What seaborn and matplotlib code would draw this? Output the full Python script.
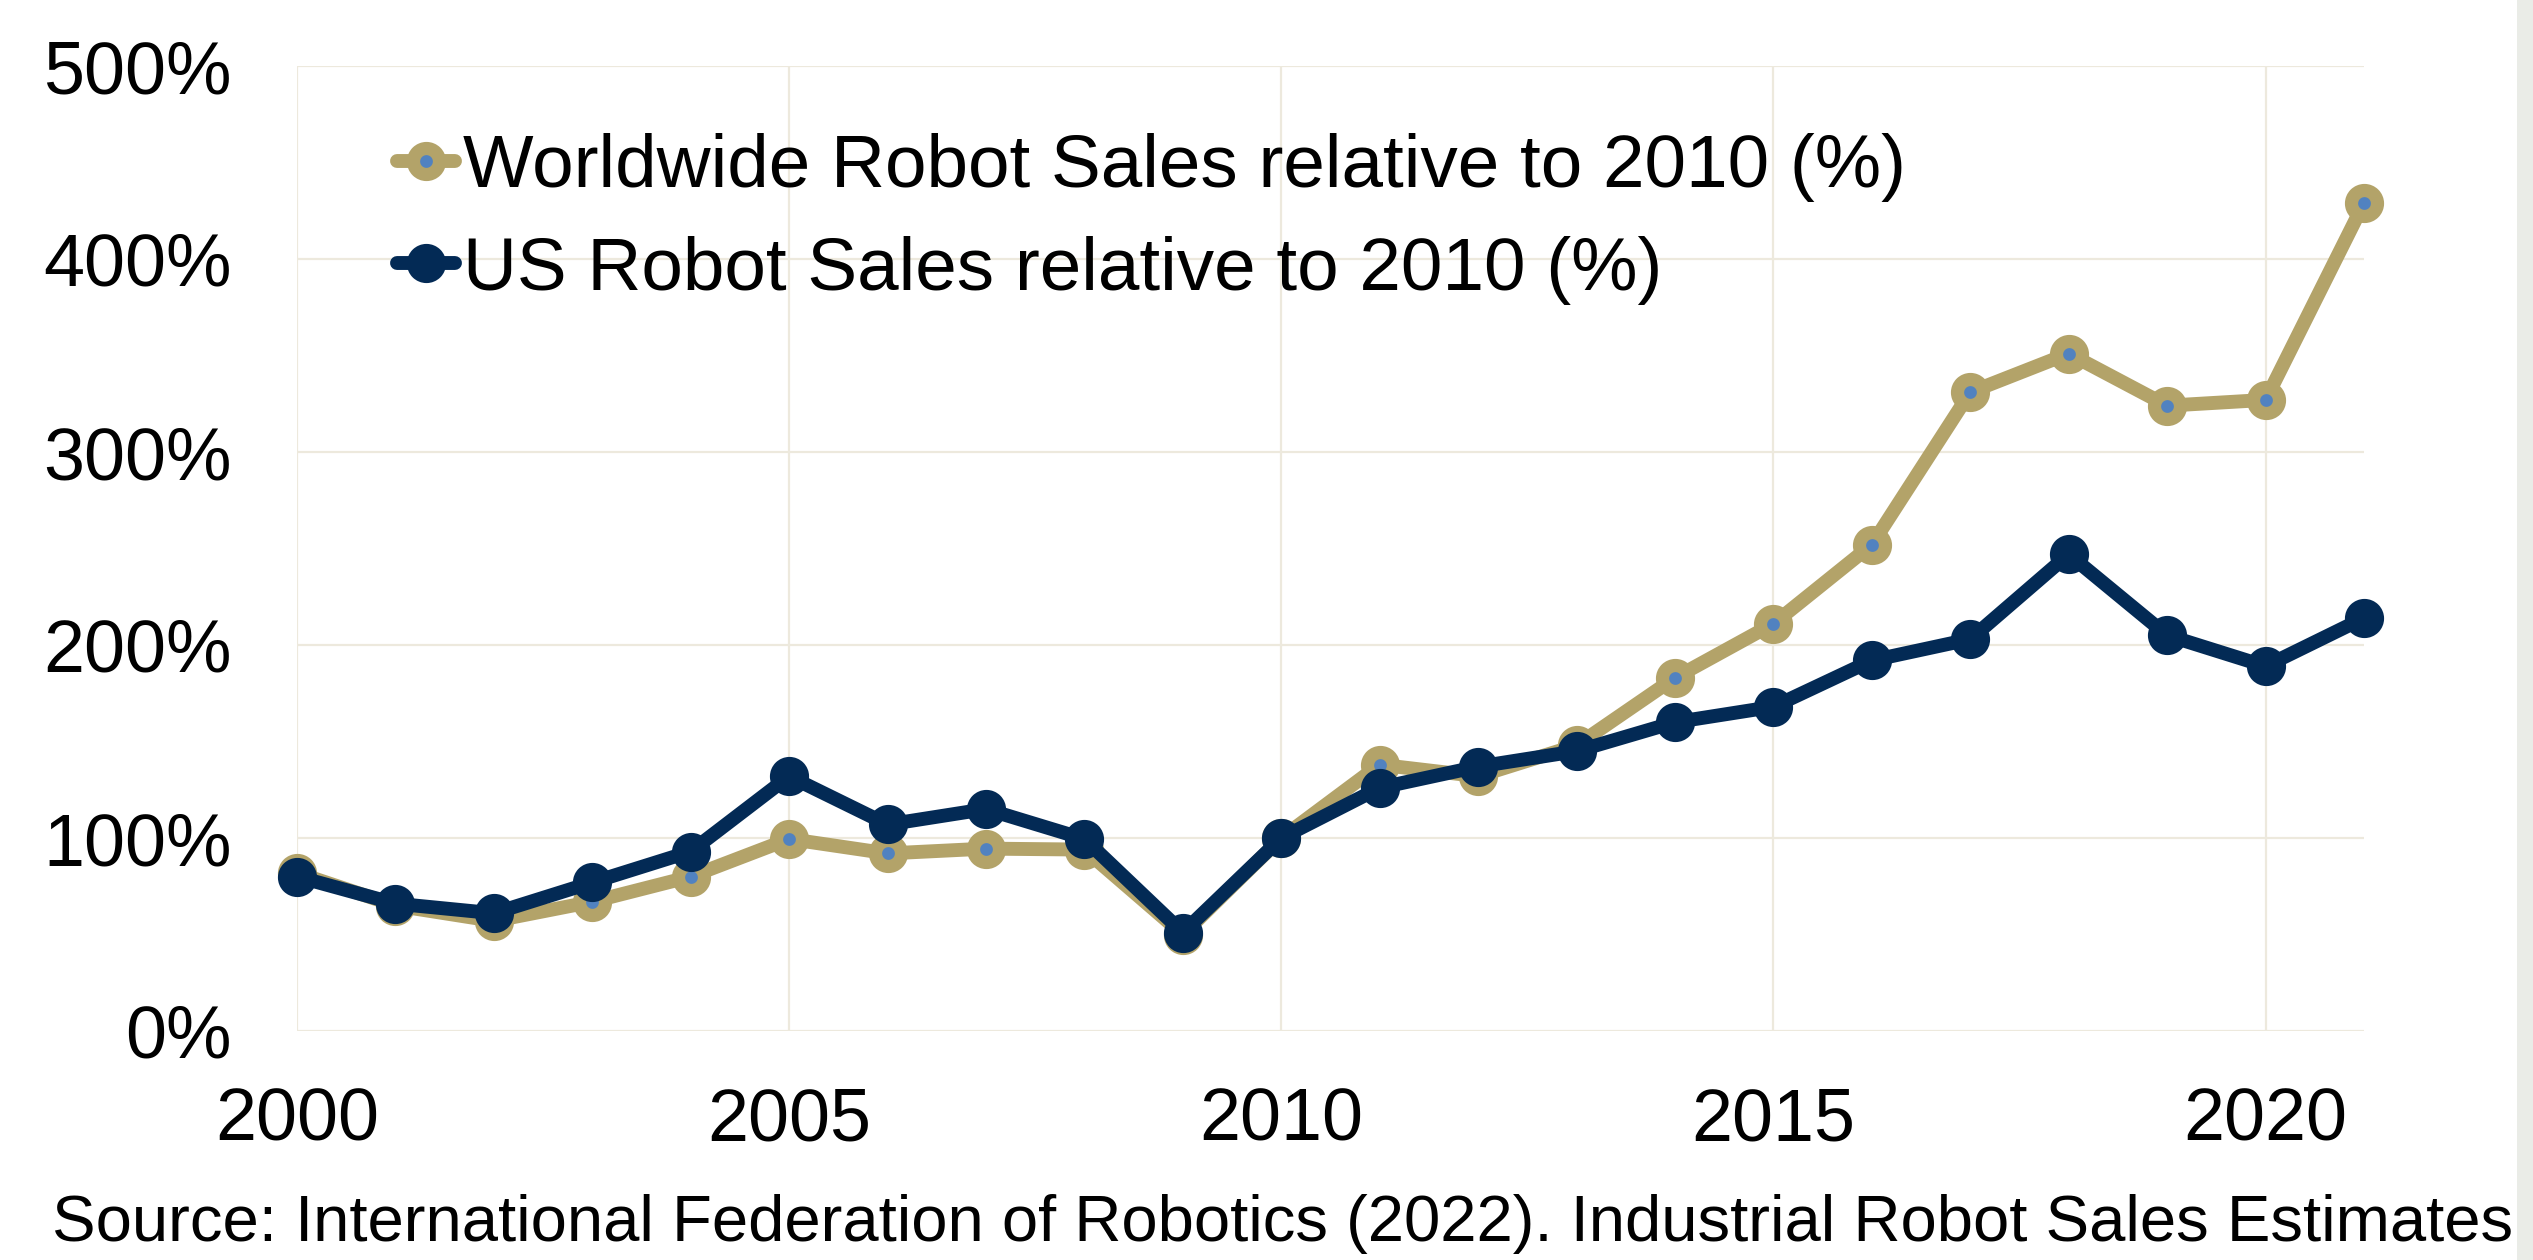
import matplotlib
matplotlib.use("Agg")
import matplotlib.pyplot as plt
from matplotlib.patches import Rectangle
from matplotlib.ticker import FuncFormatter, MultipleLocator
import seaborn as sns
import pandas as pd

years = list(range(2000, 2022))
worldwide = [82, 65, 57, 67, 80, 99.5, 92, 94.5, 94, 50, 100, 138, 132, 148, 183, 211,
             252, 331, 351, 324, 327, 429]
us = [80, 66, 61, 77, 93, 132, 107, 115, 99.5, 51, 100, 126, 137, 145, 160, 168,
      192, 203, 247, 205, 189, 214]
series_names = ["Worldwide Robot Sales relative to 2010 (%)",
                "US Robot Sales relative to 2010 (%)"]
source_text = "Source: International Federation of Robotics (2022). Industrial Robot Sales Estimates"

GOLD = "#B3A369"
NAVY = "#032A55"
BLUE = "#5182C0"
GRID = "#EDE9DD"

sns.set_theme(style="white")
plt.rcParams["font.family"] = ["Liberation Sans", "DejaVu Sans"]

W, H = 2533, 1260
fig = plt.figure(figsize=(W / 100, H / 100), dpi=100)
fig.patch.set_facecolor("white")
ax = fig.add_axes([297 / W, (H - 1031) / H, (2364 - 297) / W, (1031 - 66) / H])

df_w = pd.DataFrame({"Year": years, "Value": worldwide})
df_u = pd.DataFrame({"Year": years, "Value": us})

sns.lineplot(data=df_w, x="Year", y="Value", ax=ax, color=GOLD, linewidth=10,
             marker="o", markersize=18.7, markerfacecolor=BLUE, markeredgecolor=GOLD,
             markeredgewidth=9.5, clip_on=False, zorder=3, label=series_names[0])
sns.lineplot(data=df_u, x="Year", y="Value", ax=ax, color=NAVY, linewidth=10,
             marker="o", markersize=18.7, markerfacecolor=NAVY, markeredgecolor=NAVY,
             markeredgewidth=9.5, clip_on=False, zorder=4, label=series_names[1])

ax.set_xlim(2000, 2021)
ax.set_ylim(0, 500)
ax.xaxis.set_major_locator(MultipleLocator(5))
ax.yaxis.set_major_locator(MultipleLocator(100))
ax.yaxis.set_major_formatter(FuncFormatter(lambda v, p: f"{int(round(v))}%"))
ax.grid(True, color=GRID, linewidth=1.6)
ax.set_axisbelow(True)
for s in ax.spines.values():
    s.set_visible(False)
ax.set_xlabel("")
ax.set_ylabel("")
ax.tick_params(axis="y", length=0, pad=47, labelsize=53, colors="black")
ax.tick_params(axis="x", length=0, pad=40, labelsize=53, colors="black")

handles, labels = ax.get_legend_handles_labels()
leg = ax.legend(handles, labels, loc="upper left",
                bbox_to_anchor=(397 / W, (H - 133) / H), bbox_transform=fig.transFigure,
                frameon=False, fontsize=53.8, handlelength=0.78, handletextpad=0.1,
                labelspacing=0.45, borderpad=0, borderaxespad=0, markerscale=1.0)
for t in leg.get_texts():
    t.set_color("black")

fig.text(52 / W, (H - 1241) / H, source_text, fontsize=47, color="black",
         ha="left", va="baseline")

fig.patches.append(Rectangle((2517 / W, 0), (W - 2517) / W, 1, transform=fig.transFigure,
                             facecolor="#EAECE7", edgecolor="none", zorder=0))

fig.savefig("out.png", dpi=100, facecolor="white")
